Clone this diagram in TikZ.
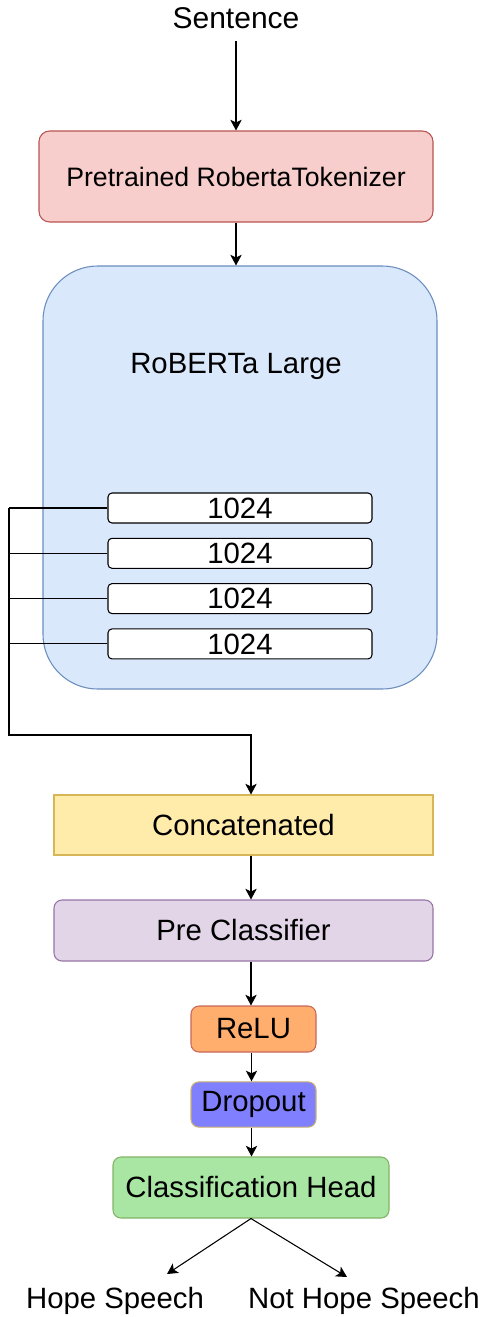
\documentclass[tikz,border=0pt]{standalone}
\usepackage{fontspec}
\setmainfont{Liberation Sans}
\usetikzlibrary{arrows.meta,positioning,calc}
\definecolor{tokFill}{HTML}{F8CECC}
\definecolor{tokLine}{HTML}{B85450}
\definecolor{robFill}{HTML}{DAE8FC}
\definecolor{robLine}{HTML}{6C8EBF}
\definecolor{catFill}{HTML}{FFEBAA}
\definecolor{catLine}{HTML}{D6B656}
\definecolor{preFill}{HTML}{E1D5E7}
\definecolor{preLine}{HTML}{9673A6}
\definecolor{reluFill}{HTML}{FFAE6E}
\definecolor{reluLine}{HTML}{C8675A}
\definecolor{dropFill}{HTML}{8080FF}
\definecolor{dropLine}{HTML}{C9B070}
\definecolor{headFill}{HTML}{A9E5A3}
\definecolor{headLine}{HTML}{82B366}
\tikzset{
  blk/.style={draw, rounded corners=6pt, line width=0.8pt, inner sep=0pt, align=center,
    font=\fontsize{22}{26}\selectfont},
  lyr/.style={draw, fill=white, rounded corners=3pt, line width=0.8pt, inner sep=0pt,
    minimum width=198pt, minimum height=22.5pt, font=\fontsize{22}{26}\selectfont},
  txt/.style={inner sep=0pt, font=\fontsize{22}{26}\selectfont},
  arr/.style={-{Stealth[length=8pt, width=8.5pt, inset=2pt]}, line width=0.8pt},
  wire/.style={line width=0.8pt},
}
\begin{document}
\begin{tikzpicture}[x=0.75pt, y=-0.75pt]
  \useasboundingbox (0,0) rectangle (486,1317);
  % input and tokenizer
  \node[txt, font=\fontsize{22.5}{26}\selectfont] (sent) at (236,18) {Sentence};
  \node[blk, fill=tokFill, draw=tokLine, rounded corners=8pt, minimum width=295.5pt, minimum height=68.25pt,
    font=\fontsize{20}{24}\selectfont] (tok) at (236,176.5) {Pretrained RobertaTokenizer};
  % encoder
  \node[blk, fill=robFill, draw=robLine, rounded corners=41pt, minimum width=295.5pt, minimum height=317.25pt]
    (rob) at (240,477.5) {};
  \node[txt] (robname) at (236,366) {RoBERTa Large};
  \foreach \i in {1,...,4}
    \node[lyr] (l\i) at (240,{508+45.3*(\i-1)}) {1024};
  % head
  \node[blk, fill=catFill, draw=catLine, rounded corners=0pt, minimum width=284.25pt, minimum height=45pt]
    (cat) at (243.5,825) {Concatenated};
  \node[blk, fill=preFill, draw=preLine, minimum width=284.25pt, minimum height=45.75pt]
    (pre) at (243.5,930.5) {Pre Classifier};
  \node[blk, fill=reluFill, draw=reluLine, minimum width=93.75pt, minimum height=34.5pt]
    (relu) at (253.5,1029) {ReLU};
  \node[blk, fill=dropFill, draw=dropLine, minimum width=93.75pt, minimum height=34pt]
    (drop) at (253.5,1104.5) {Dropout};
  \node[blk, fill=headFill, draw=headLine, minimum width=207pt, minimum height=45.75pt]
    (head) at (251,1187.5) {Classification Head};
  \node[txt] (hope) at (115,1301) {Hope Speech};
  \node[txt] (nohope) at (364,1301) {Not Hope Speech};
  \coordinate (bus) at (9,0);
  \coordinate (turn) at (251,735);
  \coordinate (hopeEnd) at (167,1274);
  \coordinate (nohopeEnd) at (347,1277);
  % connectors
  \draw[arr] (sent.south |- 0,41) -- (tok.north);
  \draw[arr] (tok.south) -- (tok.south |- rob.north);
  \foreach \i in {1,...,4}
    \draw[wire] (l\i.west) -- (l\i.west -| bus);
  \draw[arr] (l1.west -| bus) |- (turn) -- (turn |- cat.north);
  \draw[arr] (turn |- cat.south) -- (turn |- pre.north);
  \draw[arr] (turn |- pre.south) -- (turn |- relu.north);
  \draw[arr] ([xshift=-1.5pt]relu.south) -- ([xshift=-1.5pt]drop.north);
  \draw[arr] ([xshift=-1.5pt]drop.south) -- ([xshift=-1.5pt]drop.south |- head.north);
  \draw[arr] (head.south) -- (hopeEnd);
  \draw[arr] (head.south) -- (nohopeEnd);
\end{tikzpicture}
\end{document}
